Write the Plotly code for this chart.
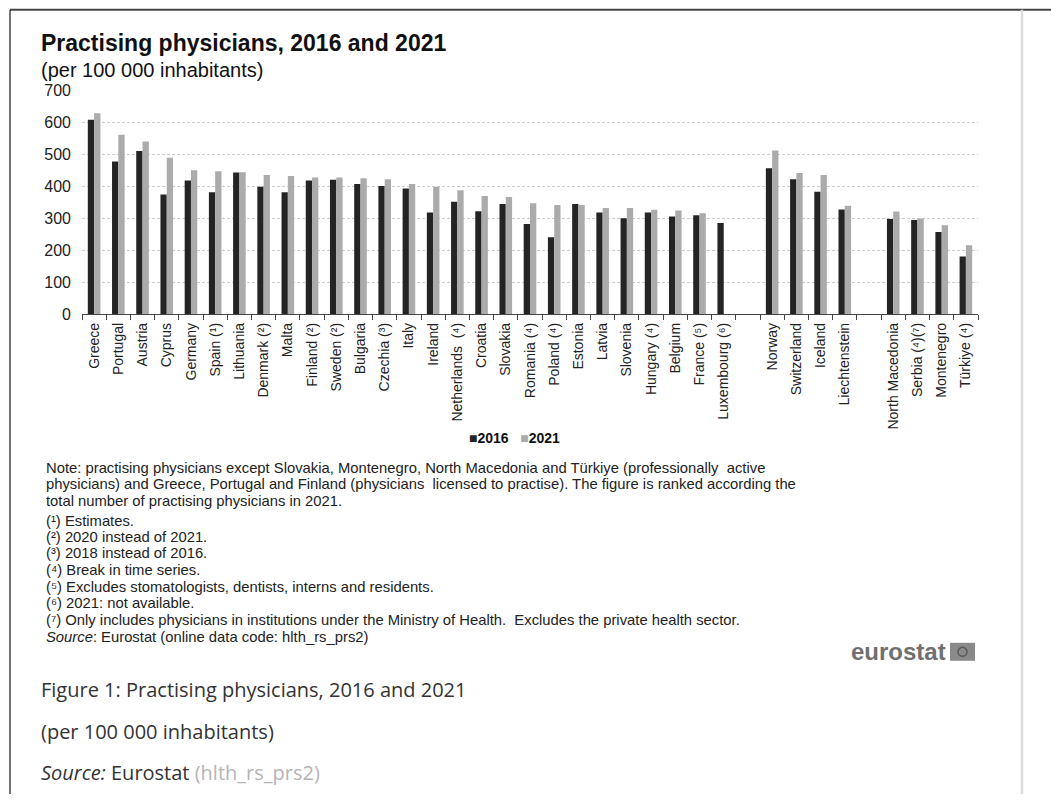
import plotly.graph_objects as go

W, H = 1051, 803

categories = ["Greece", "Portugal", "Austria", "Cyprus", "Germany", "Spain (¹)", "Lithuania",
              "Denmark (²)", "Malta", "Finland (²)", "Sweden (²)", "Bulgaria", "Czechia (³)",
              "Italy", "Ireland", "Netherlands  (⁴)", "Croatia", "Slovakia", "Romania (⁴)",
              "Poland (⁴)", "Estonia", "Latvia", "Slovenia", "Hungary (⁴)", "Belgium",
              "France (⁵)", "Luxembourg (⁶)", " ", "Norway", "Switzerland", "Iceland",
              "Liechtenstein", "  ", "North Macedonia", "Serbia (⁴)(⁷)", "Montenegro", "Türkiye (⁴)"]

values_2016 = [609, 478, 511, 375, 419, 382, 444, 399, 382, 419, 421, 408, 402, 394, 319, 352,
               323, 345, 283, 241, 345, 319, 301, 319, 306, 310, 286, None, 457, 423, 384, 328,
               None, 298, 295, 258, 181]
values_2021 = [629, 562, 541, 490, 451, 448, 445, 436, 433, 428, 428, 426, 423, 408, 399, 388,
               370, 367, 348, 342, 342, 333, 333, 327, 325, 316, None, None, 513, 442, 436, 340,
               None, 322, 300, 279, 216]

y_ticks = [0, 100, 200, 300, 400, 500, 600, 700]
series_names = ["2016", "2021"]
series_colors = ["#242424", "#ababab"]

title = "Practising physicians, 2016 and 2021"
subtitle = "(per 100 000 inhabitants)"
notes = [
    "Note: practising physicians except Slovakia, Montenegro, North Macedonia and Türkiye (professionally  active",
    "physicians) and Greece, Portugal and Finland (physicians  licensed to practise). The figure is ranked according the",
    "total number of practising physicians in 2021.",
    "(¹) Estimates.",
    "(²) 2020 instead of 2021.",
    "(³) 2018 instead of 2016.",
    "(⁴) Break in time series.",
    "(⁵) Excludes stomatologists, dentists, interns and residents.",
    "(⁶) 2021: not available.",
    "(⁷) Only includes physicians in institutions under the Ministry of Health.  Excludes the private health sector.",
    "<i>Source</i>: Eurostat (online data code: hlth_rs_prs2)",
]
note_y = [468, 484, 501, 521, 537, 553, 570, 587, 603, 620, 637]


def px(x):
    return x / W


def py(y):
    # map a target screen y to the figure's paper coordinate
    return 1 - ((y - 7.18) / 0.9804) / H


FONT = "Liberation Sans, Arial, sans-serif"

fig = go.Figure()
fig.add_trace(go.Bar(x=categories, y=values_2016, name=series_names[0],
                     marker=dict(color=series_colors[0], line=dict(width=0))))
fig.add_trace(go.Bar(x=categories, y=values_2021, name=series_names[1],
                     marker=dict(color=series_colors[1], line=dict(width=0))))

fig.update_layout(
    width=W, height=H,
    margin=dict(l=0, r=0, t=0, b=0),
    paper_bgcolor="white", plot_bgcolor="white",
    barmode="group", bargap=0.48, bargroupgap=0,
    font=dict(family=FONT, color="#222"),
    showlegend=False,
    xaxis=dict(domain=[px(82), px(978)], type="category", showline=True, linecolor="#444",
               linewidth=1, ticks="outside", ticklen=5, tickcolor="#444", tickson="boundaries",
               tickangle=-90, tickfont=dict(size=14, color="#222", family=FONT),
               ticklabelstandoff=2, showgrid=False, fixedrange=True),
    yaxis=dict(domain=[py(314), py(90)], range=[0, 700], tickvals=y_ticks, showline=False,
               showgrid=True, gridcolor="#cccccc", griddash="3px,2px", gridwidth=1,
               zeroline=False, tickfont=dict(size=16, color="#222", family=FONT),
               ticklabelstandoff=10, fixedrange=True),
)


def note(text, x, y, size, color="#222", family=FONT, anchor="left"):
    return dict(text=text, x=px(x), y=py(y), xref="paper", yref="paper",
                xanchor=anchor, yanchor="middle", showarrow=False,
                font=dict(size=size, color=color, family=family))


ann = []
ann.append(note("<b>" + title + "</b>", 39, 42, 23, "#111"))
ann.append(note(subtitle, 39, 69, 20, "#111"))
legend_text = ("<span style='color:%s'>■</span><b>%s</b>   "
               "<span style='color:%s'>■</span><b>%s</b>") % (
    series_colors[0], series_names[0], series_colors[1], series_names[1])
ann.append(note(legend_text, 514, 438, 14, "#111", anchor="center"))
for t, yy in zip(notes, note_y):
    ann.append(note(t, 44, yy, 14.8, "#222"))
ann.append(note("<b>eurostat</b>", 948, 652, 24, "#707070", anchor="right"))
CAP = "Open Sans, Noto Sans, sans-serif"
ann.append(note("Figure 1: Practising physicians, 2016 and 2021", 39, 690, 20, "#333", CAP))
ann.append(note("(per 100 000 inhabitants)", 39, 732, 20, "#333", CAP))
ann.append(note("<i>Source:</i> Eurostat <span style='color:#b5b5b5'>(hlth_rs_prs2)</span>",
                39, 773, 20, "#333", CAP))
fig.update_layout(annotations=ann)

shapes = [
    dict(type="line", xref="paper", yref="paper", x0=px(10), x1=1, y0=py(9), y1=py(9),
         line=dict(color="#444", width=2)),
    dict(type="line", xref="paper", yref="paper", x0=px(10), x1=px(10), y0=py(9), y1=0,
         line=dict(color="#444", width=1.5)),
    dict(type="line", xref="paper", yref="paper", x0=px(1022), x1=px(1022), y0=py(9), y1=0,
         line=dict(color="#dcdcdc", width=2.5)),
    dict(type="rect", xref="paper", yref="paper", x0=px(950), x1=px(975), y0=py(661), y1=py(643),
         fillcolor="#8a8a8a", line=dict(width=0)),
    dict(type="circle", xref="paper", yref="paper", x0=px(958), x1=px(967), y0=py(656.5),
         y1=py(647.5), fillcolor="rgba(0,0,0,0)", line=dict(color="#5a5a5a", width=1.5)),
]
fig.update_layout(shapes=shapes)

fig.write_html("out.html", config={"displayModeBar": False},
               post_script="document.body.style.margin='0';document.body.style.overflow='hidden';")
